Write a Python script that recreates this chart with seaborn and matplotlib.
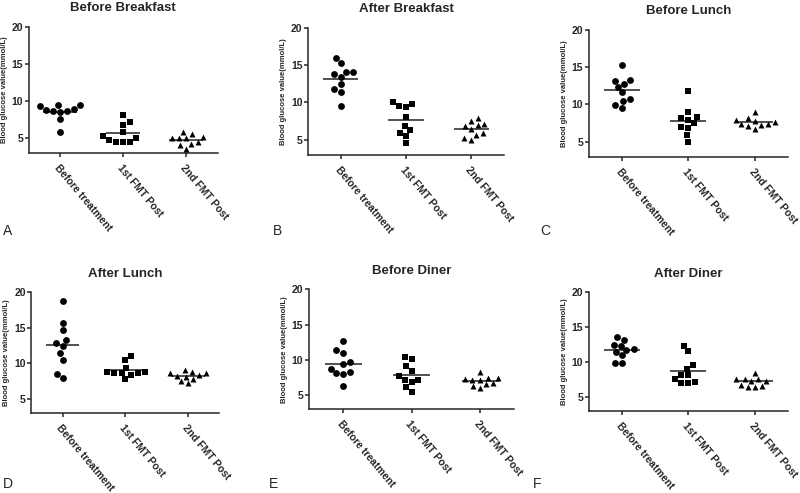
import matplotlib
matplotlib.use("Agg")
import matplotlib.pyplot as plt
import seaborn as sns
import pandas as pd

groups = ["Before treatment", "1st FMT Post", "2nd FMT Post"]
markers = ["o", "s", "^"]

# valors llegits de la figura (mmol/L)
before_breakfast = [
    [9.50, 9.32, 8.69, 8.56, 8.69, 8.83, 8.96, 9.41, 7.57, 5.77],
    [8.15, 7.12, 6.76, 5.81, 4.95, 4.46, 4.46, 4.46, 4.68, 5.23],
    [5.77, 5.10, 5.00, 4.95, 5.05, 5.50, 4.23, 3.56, 4.00, 4.50],
]
after_breakfast = [
    [15.98, 15.31, 14.02, 13.39, 13.84, 14.11, 11.83, 12.41, 11.38, 9.51],
    [10.09, 9.51, 9.38, 9.78, 8.08, 6.88, 6.29, 5.98, 5.54, 4.60],
    [7.14, 7.50, 7.95, 6.83, 6.47, 6.92, 5.71, 5.04, 5.27, 5.89],
]
before_lunch = [
    [15.31, 13.17, 12.32, 12.77, 13.26, 11.61, 10.40, 10.71, 9.51, 9.87],
    [11.83, 8.26, 7.95, 8.17, 8.93, 7.46, 7.01, 6.83, 5.89, 5.00],
    [8.97, 8.17, 7.90, 7.77, 7.37, 7.28, 6.74, 7.10, 7.37, 7.63],
]
after_lunch = [
    [18.78, 15.74, 14.70, 13.30, 12.92, 12.45, 11.42, 10.53, 8.56, 7.91],
    [10.53, 11.00, 8.70, 8.60, 9.36, 8.60, 8.80, 8.80, 7.77, 8.33],
    [8.23, 8.61, 8.80, 8.33, 8.61, 8.14, 9.08, 7.86, 7.20, 7.48],
]
before_diner = [
    [12.74, 11.42, 11.04, 9.43, 9.72, 8.77, 8.11, 8.02, 8.30, 6.32],
    [10.47, 10.19, 9.06, 8.40, 7.64, 7.08, 7.08, 6.79, 6.13, 5.47],
    [7.08, 7.26, 7.45, 7.17, 7.36, 8.21, 6.70, 6.51, 5.94, 6.23],
]
after_diner = [
    [13.19, 13.57, 12.33, 12.43, 11.76, 11.48, 11.86, 11.00, 9.95, 9.95],
    [12.33, 11.57, 9.67, 9.10, 8.14, 8.14, 7.19, 7.00, 7.10, 7.57],
    [8.52, 7.38, 7.57, 7.57, 7.67, 7.38, 6.62, 6.52, 6.52, 6.81],
]

# titol, lletra, dades, rect dels eixos, posicio de la lletra (px)
panels = [
    ("Before Breakfast", "A", before_breakfast, [0.036, 0.690, 0.236, 0.256], (8, 231)),
    ("After Breakfast", "B", after_breakfast, [0.385, 0.686, 0.245, 0.258], (277, 231)),
    ("Before Lunch", "C", before_lunch, [0.736, 0.682, 0.249, 0.258], (545, 231)),
    ("After Lunch", "D", after_lunch, [0.039, 0.162, 0.235, 0.245], (8, 484)),
    ("Before Diner", "E", before_diner, [0.386, 0.170, 0.257, 0.243], (274, 484)),
    ("After Diner", "F", after_diner, [0.736, 0.166, 0.249, 0.241], (537, 484)),
]

sns.set_style("ticks")
plt.rcParams["font.family"] = ["Liberation Sans", "DejaVu Sans"]

W, H = 800, 493
fig = plt.figure(figsize=(W / 100, H / 100), dpi=100)

punts = []
for title, letter, dades, rect, pos in panels:
    ax = fig.add_axes(rect)
    for i, (g, m) in enumerate(zip(groups, markers)):
        df = pd.DataFrame({"grup": [g] * len(dades[i]), "valor": dades[i]})
        # swarm amb punts grans per separar-los com al GraphPad
        sns.swarmplot(data=df, x="grup", y="valor", order=groups, marker=m,
                      color="black", size=4.9, linewidth=0, ax=ax,
                      warn_thresh=1)
        mida = {"o": 3.7, "s": 3.9, "^": 4.3}[m]
        punts.append((ax, ax.collections[-1], m, mida))
        mitjana = df["valor"].mean()
        ax.hlines(mitjana, i - 0.27, i + 0.27, color="#222222", lw=1.1)
    ax.set_xlim(-0.5, 2.5)
    ax.set_ylim(3, 20)
    ax.set_yticks([5, 10, 15, 20])
    ax.set_xlabel("")
    ax.set_ylabel("Blood glucose value(mmol/L)", fontsize=5.5, fontweight="bold",
                  labelpad=3)
    ax.set_title(title, fontsize=9.5, fontweight="bold", pad=11)
    for s in ["top", "right"]:
        ax.spines[s].set_visible(False)
    for s in ["left", "bottom"]:
        ax.spines[s].set_linewidth(1.1)
    ax.tick_params(axis="both", direction="out", length=3, width=1.1)
    ax.tick_params(axis="y", labelsize=7.5, pad=1)
    for lab in ax.get_yticklabels():
        lab.set_fontweight("bold")
    ax.set_xticks(range(3))
    ax.set_xticklabels(groups, rotation=-50, ha="left", rotation_mode="anchor",
                       fontsize=7.5, fontweight="bold")
    ax.tick_params(axis="x", pad=4)
    fig.text(pos[0] / W, 1 - pos[1] / H, letter, fontsize=10,
             ha="center", va="center")

# primer dibuix: seaborn calcula les posicions del swarm,
# despres es redibuixen els punts mes petits a les mateixes posicions
fig.canvas.draw()
for ax, coll, m, mida in punts:
    offs = coll.get_offsets().copy()
    coll.set_visible(False)
    ax.scatter(offs[:, 0], offs[:, 1], marker=m, s=mida ** 2, color="black",
               linewidths=0, zorder=3)

plt.savefig("out.png", dpi=100)
